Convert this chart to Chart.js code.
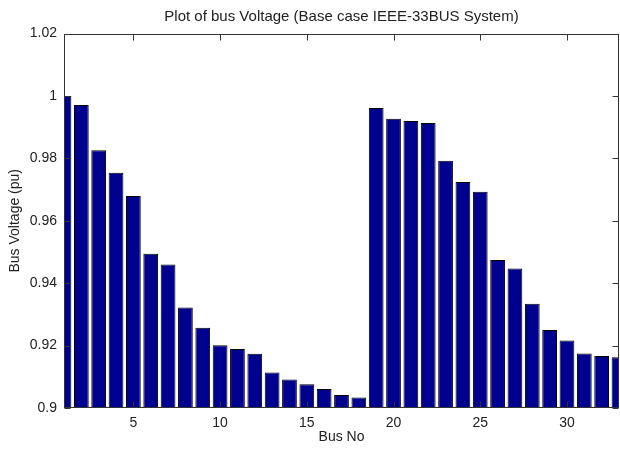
<!DOCTYPE html>
<html>
<head>
<meta charset="utf-8">
<script src="https://cdn.jsdelivr.net/npm/chart.js@4"></script>
<style>
  html, body { margin: 0; padding: 0; background: #fff; }
  #chart { display: block; }
</style>
</head>
<body>
<canvas id="chart" width="620" height="450"></canvas>
<script>
// bus numbers 1..33 and the base case voltage
const busNo = [1, 2, 3, 4, 5, 6, 7, 8, 9, 10, 11, 12, 13, 14, 15, 16, 17,
               18, 19, 20, 21, 22, 23, 24, 25, 26, 27, 28, 29, 30, 31, 32, 33];
const voltage = [1.0000, 0.9971, 0.9826, 0.9754, 0.9679, 0.9494, 0.9460, 0.9322,
                 0.9257, 0.9201, 0.9189, 0.9174, 0.9114, 0.9091, 0.9076, 0.9061,
                 0.9042, 0.9034, 0.9961, 0.9927, 0.9920, 0.9913, 0.9792, 0.9724,
                 0.9693, 0.9474, 0.9447, 0.9334, 0.9250, 0.9216, 0.9175, 0.9167,
                 0.9163];
const xTicks = [5, 10, 15, 20, 25, 30];
const yTicks = [0.9, 0.92, 0.94, 0.96, 0.98, 1.0, 1.02];

const font = "'Liberation Sans', Arial, Helvetica, sans-serif";
const textColor = '#222';

// matlab style box with inward ticks on all four sides
const boxPlugin = {
    id: 'box',
    afterDraw(chart) {
        const {ctx, chartArea: a, scales} = chart;
        const len = 6;
        ctx.save();
        ctx.strokeStyle = '#333';
        ctx.lineWidth = 1;
        const l = Math.round(a.left) + 0.5, r = Math.round(a.right) - 0.5;
        const t = Math.round(a.top) + 0.5, b = Math.round(a.bottom) - 0.5;
        ctx.strokeRect(l, t, r - l, b - t);
        ctx.beginPath();
        xTicks.forEach(v => {
            const x = Math.round(scales.x.getPixelForValue(v)) + 0.5;
            ctx.moveTo(x, b); ctx.lineTo(x, b - len);
            ctx.moveTo(x, t); ctx.lineTo(x, t + len);
        });
        yTicks.forEach(v => {
            const y = Math.round(scales.y.getPixelForValue(v)) + 0.5;
            ctx.moveTo(l, y); ctx.lineTo(l + len, y);
            ctx.moveTo(r, y); ctx.lineTo(r - len, y);
        });
        ctx.stroke();
        ctx.restore();
    }
};

new Chart(document.getElementById('chart'), {
    type: 'bar',
    data: {
        datasets: [{
            label: 'Bus Voltage',
            data: busNo.map((b, i) => ({x: b, y: voltage[i]})),
            backgroundColor: 'rgb(0,0,143)',
            borderColor: '#000',
            borderWidth: 1,
            barPercentage: 0.85,
            categoryPercentage: 1.0
        }]
    },
    options: {
        responsive: false,
        animation: false,
        devicePixelRatio: 1,
        layout: { padding: { left: 0, right: 1, top: 0, bottom: 0 } },
        scales: {
            x: {
                type: 'linear',
                offset: false,
                min: 1,
                max: 33,
                afterBuildTicks: s => { s.ticks = xTicks.map(v => ({value: v})); },
                afterFit: s => { s.height = 42; },
                grid: { display: false, drawTicks: false, offset: false },
                border: { display: false },
                ticks: { padding: 7, color: textColor, font: { family: font, size: 14 } },
                title: {
                    display: true, text: 'Bus No', color: textColor,
                    font: { family: font, size: 14 }, padding: { top: 0, bottom: 4 }
                }
            },
            y: {
                min: 0.9,
                max: 1.02,
                afterBuildTicks: s => { s.ticks = yTicks.map(v => ({value: v})); },
                afterFit: s => { s.width = 64; },
                grid: { display: false, drawTicks: false },
                border: { display: false },
                ticks: {
                    padding: 7, color: textColor, font: { family: font, size: 14 },
                    callback: v => String(+v.toFixed(2))
                },
                title: {
                    display: true, text: 'Bus Voltage (pu)', color: textColor,
                    font: { family: font, size: 14 }, padding: { top: 7, bottom: 0 }
                }
            }
        },
        plugins: {
            legend: { display: false },
            tooltip: { enabled: false },
            title: {
                display: true,
                fullSize: false,
                text: 'Plot of bus Voltage (Base case IEEE-33BUS System)',
                color: textColor,
                font: { family: font, size: 15, weight: 'normal' },
                padding: { top: 8, bottom: 7.5 }
            }
        }
    },
    plugins: [boxPlugin]
});
</script>
</body>
</html>
